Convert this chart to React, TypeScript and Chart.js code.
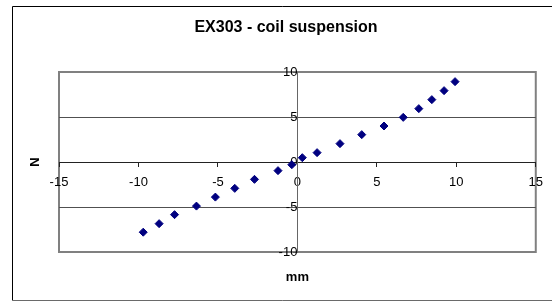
import React, { useEffect, useRef } from "react";
import { Chart, registerables } from "chart.js";

Chart.register(...registerables);

const chartTitle = "EX303 - coil suspension";
const xAxisTitle = "mm";
const yAxisTitle = "N";
const xValues = [-9.7, -8.7, -7.73, -6.35, -5.16, -3.94, -2.7, -1.22, -0.35, 0.31, 1.24, 2.68, 4.05, 5.45, 6.66, 7.64, 8.46, 9.23, 9.92];
const yValues = [-7.8, -6.85, -5.85, -4.9, -3.9, -2.93, -1.93, -0.96, -0.3, 0.48, 1.04, 2.04, 3.04, 4.0, 4.96, 5.93, 6.93, 7.93, 8.93];
const xRange = [-15, 15];
const yRange = [-10, 10];
const xStep = 5;
const yStep = 5;

const FONT = "Arial, 'Liberation Sans', sans-serif";

const framePlugin = {
  id: "frame",
  beforeDraw(chart: any) {
    const { ctx, chartArea: a } = chart;
    ctx.save();
    ctx.fillStyle = "#ffffff";
    ctx.fillRect(0, 0, chart.width, chart.height);
    ctx.lineWidth = 1;
    ctx.strokeStyle = "#000000";
    ctx.beginPath();
    ctx.moveTo(12.5, 300.5);
    ctx.lineTo(12.5, 6.5);
    ctx.lineTo(chart.width + 2, 6.5);
    ctx.stroke();
    ctx.strokeStyle = "#6a6a6a";
    ctx.beginPath();
    ctx.moveTo(12.5, 300.5);
    ctx.lineTo(chart.width + 2, 300.5);
    ctx.stroke();
    ctx.strokeStyle = "#808080";
    ctx.lineWidth = 2;
    ctx.strokeRect(a.left, a.top, a.right - a.left, a.bottom - a.top);
    ctx.restore();
  },
};

export default function App() {
  const ref = useRef<HTMLCanvasElement | null>(null);
  useEffect(() => {
    if (!ref.current) return;
    const points = xValues.map((x, i) => ({ x, y: yValues[i] }));
    const chart = new Chart(ref.current, {
      type: "scatter",
      data: {
        datasets: [
          {
            data: points,
            pointStyle: "rectRot",
            pointRadius: 4,
            borderWidth: 1,
            backgroundColor: "#000080",
            borderColor: "#000080",
            showLine: false,
          },
        ],
      },
      options: {
        responsive: false,
        animation: false,
        layout: { padding: { left: 20, right: 0, top: 0, bottom: 0 } },
        plugins: {
          legend: { display: false },
          tooltip: { enabled: false },
          title: {
            display: true,
            text: chartTitle,
            color: "#000000",
            font: { family: FONT, size: 16, weight: "bold", lineHeight: 1.2 },
            padding: { top: 17.7, bottom: 35.1 },
          },
        },
        scales: {
          x: {
            type: "linear",
            position: { y: 0 } as any,
            min: xRange[0],
            max: xRange[1],
            ticks: {
              stepSize: xStep,
              color: "#000000",
              font: { family: FONT, size: 13 },
              padding: 9,
              maxRotation: 0,
            },
            grid: {
              display: true,
              drawOnChartArea: false,
              drawTicks: true,
              tickLength: 4,
              color: "#222222",
            },
            border: { display: true, color: "#222222", width: 1 },
          },
          y: {
            type: "linear",
            position: { x: 0 } as any,
            min: yRange[0],
            max: yRange[1],
            ticks: {
              stepSize: yStep,
              color: "#000000",
              font: { family: FONT, size: 13 },
              padding: 5,
            },
            grid: {
              display: true,
              drawOnChartArea: true,
              drawTicks: true,
              tickLength: 4,
              color: (c: any) =>
                c.tick && Math.abs(c.tick.value) === 10 ? "rgba(0,0,0,0)" : "#505050",
              tickColor: "#555555",
            },
            border: { display: true, color: "#666666", width: 1 },
          },
          yN: {
            type: "linear",
            position: "left",
            min: 0,
            max: 1,
            ticks: { display: false },
            grid: { display: false },
            border: { display: false },
            title: {
              display: true,
              text: yAxisTitle,
              color: "#000000",
              font: { family: FONT, size: 13, weight: "bold", lineHeight: 1.2 },
              padding: { top: 7.2, bottom: 0 },
            },
            afterFit: (s: any) => {
              s.width = 39;
            },
          },
          yR: {
            type: "linear",
            position: "right",
            min: 0,
            max: 1,
            ticks: { display: false },
            grid: { display: false },
            border: { display: false },
            afterFit: (s: any) => {
              s.width = 15;
            },
          },
          xM: {
            type: "linear",
            position: "bottom",
            min: 0,
            max: 1,
            ticks: { display: false },
            grid: { display: false },
            border: { display: false },
            title: {
              display: true,
              text: xAxisTitle,
              color: "#000000",
              font: { family: FONT, size: 13, weight: "bold", lineHeight: 1.2 },
              padding: { top: 0, bottom: 16.2 },
            },
            afterFit: (s: any) => {
              s.height = 49;
            },
          },
        },
      },
      plugins: [framePlugin],
    });
    return () => chart.destroy();
  }, []);
  return (
    <div style={{ position: "absolute", left: 0, top: 0, width: 552, height: 301 }}>
      <canvas ref={ref} width={552} height={301} style={{ display: "block" }} />
    </div>
  );
}
